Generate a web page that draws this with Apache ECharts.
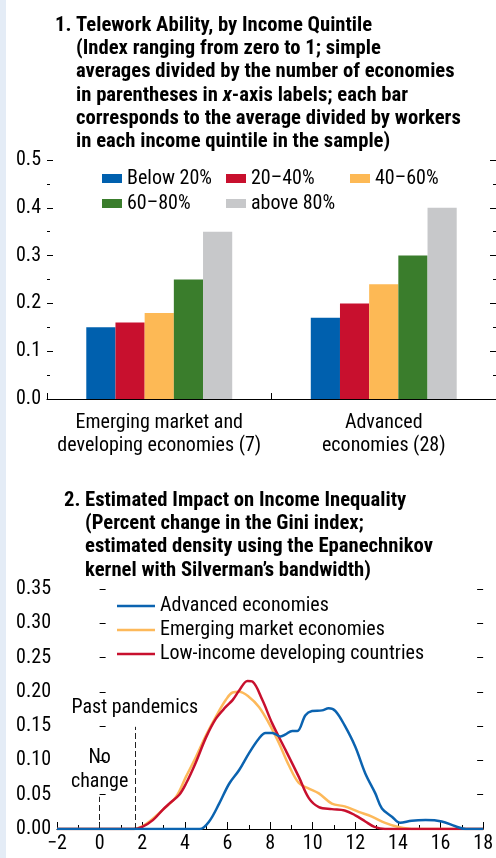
<!DOCTYPE html>
<html>
<head>
<meta charset="utf-8">
<script src="https://cdn.jsdelivr.net/npm/echarts@6/dist/echarts.min.js"></script>
<style>
html,body{margin:0;padding:0;background:#fff;}
#c{width:496px;height:858px;}
</style>
</head>
<body>
<div id="c"></div>
<script>
// ---- Panel 1 data ----
const categories = ['Emerging market and\ndeveloping economies (7)', 'Advanced\neconomies (28)'];
const quintiles = ['Below 20%', '20–40%', '40–60%', '60–80%', 'above 80%'];
const below20 = [0.15, 0.17];
const q20to40 = [0.16, 0.20];
const q40to60 = [0.18, 0.24];
const q60to80 = [0.25, 0.30];
const above80 = [0.35, 0.40];
const yTicks1 = [0, 0.1, 0.2, 0.3, 0.4, 0.5];

// ---- Panel 2 data: [percent change in Gini, density] ----
const densityNames = ['Advanced economies', 'Emerging market economies', 'Low-income developing countries'];
const advanced = [[-2,0],[4.7,0],[5.14,0.011],[5.61,0.037],[6.08,0.066],[6.55,0.086],[7.0,0.11],[7.48,0.132],[7.79,0.14],[8.1,0.14],[8.5,0.135],[8.73,0.138],[9.04,0.143],[9.28,0.143],[9.66,0.166],[9.97,0.172],[10.44,0.173],[10.75,0.176],[11.07,0.172],[11.5,0.151],[12.0,0.12],[12.47,0.081],[12.94,0.052],[13.25,0.03],[13.72,0.018],[14.1,0.009],[14.65,0.012],[15.3,0.013],[16.06,0.011],[16.7,0.004],[17.2,0],[18,0]];
const emerging = [[-2,0],[1.6,0],[2.0,0.004],[2.34,0.011],[2.96,0.028],[3.59,0.047],[4.05,0.076],[4.52,0.105],[5.0,0.137],[5.46,0.164],[5.92,0.188],[6.24,0.199],[6.55,0.2],[7.0,0.193],[7.48,0.178],[7.95,0.154],[8.42,0.125],[8.88,0.093],[9.35,0.067],[9.82,0.059],[10.29,0.052],[10.9,0.037],[11.5,0.033],[12.16,0.025],[12.78,0.018],[13.4,0.009],[14.03,0.003],[14.8,0],[18,0]];
const lowIncome = [[-2,0],[1.6,0],[2.0,0.003],[2.5,0.013],[2.96,0.028],[3.27,0.037],[3.74,0.05],[4.05,0.066],[4.5,0.096],[5.0,0.134],[5.46,0.161],[5.92,0.178],[6.24,0.188],[6.55,0.202],[6.94,0.216],[7.17,0.215],[7.64,0.188],[8.1,0.154],[8.73,0.115],[9.35,0.076],[9.82,0.045],[10.29,0.032],[10.9,0.029],[11.5,0.027],[12.0,0.02],[12.47,0.011],[12.9,0.003],[13.4,0],[18,0]];
const noChange = [0, 0.047];
const pastPandemics = [1.65, 0.149];
const xTicks2 = [-2, 0, 2, 4, 6, 8, 10, 12, 14, 16, 18];
const yTicks2 = [0, 0.05, 0.10, 0.15, 0.20, 0.25, 0.30, 0.35];

// ---- font selection (pick an installed condensed face, size it to the reference widths) ----
const mctx = document.createElement('canvas').getContext('2d');
function available(f) {
  const probe = 'mmmmmwwwlli 0123 Telework';
  for (const base of ['monospace', 'serif']) {
    mctx.font = '40px ' + base; const w1 = mctx.measureText(probe).width;
    mctx.font = '40px "' + f + '", ' + base; const w2 = mctx.measureText(probe).width;
    if (Math.abs(w1 - w2) > 0.01) return true;
  }
  return false;
}
function textW(t, f, size, weight) { mctx.font = (weight || 'normal') + ' ' + size + 'px "' + f + '"'; return mctx.measureText(t).width; }
const candidates = ['Roboto Condensed', 'Liberation Sans Narrow', 'Arial Narrow', 'Noto Sans Condensed', 'Open Sans Condensed', 'DejaVu Sans Condensed', 'Roboto', 'Liberation Sans'];
const faceT = candidates.find(available) || 'sans-serif';
const faceR = faceT;
const clamp = (v, a, b) => Math.max(a, Math.min(b, v));
const TSIZE = clamp(20 * 379 / textW('averages divided by the number of economies', faceT, 20, 'bold'), 14, 22);
const RSIZE = clamp(18 * 88 / textW('Below 20%', faceR, 18), 15, 20);
const FT = '"' + faceT + '", sans-serif';
const FR = '"' + faceR + '", sans-serif';

const INK = '#000';
const barColors = ['#0060AE', '#C8102E', '#FDB955', '#3A7D2C', '#C7C8CA'];
const lineColors = ['#0B63B0', '#FDB95A', '#C8102E'];

const chart = echarts.init(document.getElementById('c'), null, {renderer: 'canvas'});

const titleStyle = {fontFamily: FT, fontWeight: 'bold', fontSize: TSIZE, lineHeight: 23.3, color: INK};

function yAxis(gridIndex, min, max, interval, fmt, right, minor) {
  return {
    type: 'value', gridIndex, min, max, interval,
    position: right ? 'right' : 'left',
    axisLine: {show: false},
    axisTick: {show: true, inside: true, length: 6, lineStyle: {color: INK, width: 1}},
    minorTick: {show: !!minor, splitNumber: 2, length: 3, lineStyle: {color: INK, width: 1}},
    axisLabel: {show: !right, fontFamily: FR, fontSize: RSIZE, color: INK, margin: 6, formatter: fmt},
    splitLine: {show: false}
  };
}

const option = {
  backgroundColor: '#fff',
  animation: false,
  graphic: [{type: 'rect', left: 0, top: 0, shape: {width: 6, height: 858}, style: {fill: '#E4ECF6'}, silent: true}],
  title: [
    {text: '1.', left: 55, top: 14, textStyle: titleStyle, padding: 0},
    {text: 'Telework Ability, by Income Quintile\n(Index ranging from zero to 1; simple\naverages divided by the number of economies\nin parentheses in {i|x}-axis labels; each bar\ncorresponds to the average divided by workers\nin each income quintile in the sample)',
     left: 76, top: 14, padding: 0,
     textStyle: Object.assign({}, titleStyle, {rich: {i: {fontFamily: FT, fontWeight: 'bold', fontStyle: 'italic', fontSize: TSIZE, lineHeight: 23.3, color: INK}}})},
    {text: '2.', left: 64, top: 489, textStyle: titleStyle, padding: 0},
    {text: 'Estimated Impact on Income Inequality\n(Percent change in the Gini index;\nestimated density using the Epanechnikov\nkernel with Silverman’s bandwidth)',
     left: 85, top: 489, padding: 0, textStyle: titleStyle}
  ],
  legend: [
    {data: quintiles, left: 102, top: 168, width: 380, orient: 'horizontal',
     itemWidth: 20, itemHeight: 9, itemGap: 4, padding: 0,
     textStyle: {fontFamily: FR, fontSize: RSIZE, color: INK, width: 95, lineHeight: 21},
     icon: 'rect'},
    {data: densityNames, left: 117, top: 596, orient: 'vertical',
     itemWidth: 38, itemHeight: 2.5, itemGap: 4, padding: 0, icon: 'rect',
     textStyle: {fontFamily: FR, fontSize: RSIZE, color: INK, lineHeight: 20}}
  ],
  grid: [
    {left: 47, right: 0, top: 160, bottom: 459, containLabel: false},
    {left: 57, right: 11, top: 589, bottom: 29, containLabel: false}
  ],
  xAxis: [
    {type: 'category', gridIndex: 0, data: categories,
     axisLine: {lineStyle: {color: INK, width: 1.2}},
     axisTick: {show: true, inside: true, length: 6, lineStyle: {color: INK}},
     axisLabel: {interval: 0, fontFamily: FR, fontSize: RSIZE, color: INK, lineHeight: 23, margin: 12}},
    {type: 'value', gridIndex: 1, min: -2, max: 18, interval: 2,
     axisLine: {onZero: false, lineStyle: {color: INK, width: 1.2}},
     axisTick: {show: true, inside: true, length: 7, lineStyle: {color: INK}},
     minorTick: {show: true, splitNumber: 2, length: 4, lineStyle: {color: INK}},
     axisLabel: {fontFamily: FR, fontSize: RSIZE, color: INK, margin: 5,
       formatter: v => String(v).replace('-', '\u2212')},
     splitLine: {show: false}}
  ],
  yAxis: [
    yAxis(0, 0, 0.5, 0.1, v => v.toFixed(1), false, true),
    yAxis(0, 0, 0.5, 0.1, v => v.toFixed(1), true, true),
    yAxis(1, 0, 0.35, 0.05, v => v.toFixed(2), false, false),
    yAxis(1, 0, 0.35, 0.05, v => v.toFixed(2), true, false)
  ],
  series: [
    ...[below20, q20to40, q40to60, q60to80, above80].map((d, i) => ({
      name: quintiles[i], type: 'bar', xAxisIndex: 0, yAxisIndex: 0, data: d,
      barGap: '0%', barCategoryGap: '35%', itemStyle: {color: barColors[i]}
    })),
    {name: densityNames[1], type: 'line', xAxisIndex: 1, yAxisIndex: 2, data: emerging,
     smooth: 0.35, symbol: 'none', lineStyle: {color: lineColors[1], width: 2.5}, itemStyle: {color: lineColors[1]}, z: 3},
    {name: densityNames[2], type: 'line', xAxisIndex: 1, yAxisIndex: 2, data: lowIncome,
     smooth: 0.35, symbol: 'none', lineStyle: {color: lineColors[2], width: 2.5}, itemStyle: {color: lineColors[2]}, z: 4},
    {name: densityNames[0], type: 'line', xAxisIndex: 1, yAxisIndex: 2, data: advanced,
     smooth: 0.35, symbol: 'none', lineStyle: {color: lineColors[0], width: 2.5}, itemStyle: {color: lineColors[0]}, z: 5},
    {name: 'annotations', type: 'line', xAxisIndex: 1, yAxisIndex: 2, data: [], symbol: 'none',
     markLine: {
       silent: true, symbol: 'none', animation: false,
       lineStyle: {color: '#222', width: 1, type: [6, 3]},
       label: {show: true, position: 'end', fontFamily: FR, fontSize: RSIZE, color: INK},
       data: [
         [{coord: [noChange[0], 0]}, {coord: [noChange[0], noChange[1]], label: {formatter: 'No\nchange', distance: 3, lineHeight: 24}}],
         [{coord: [pastPandemics[0], 0]}, {coord: [pastPandemics[0], pastPandemics[1]], label: {formatter: 'Past pandemics', distance: 8, lineHeight: 22}}]
       ]
     }}
  ]
};
chart.setOption(option);
</script>
</body>
</html>
